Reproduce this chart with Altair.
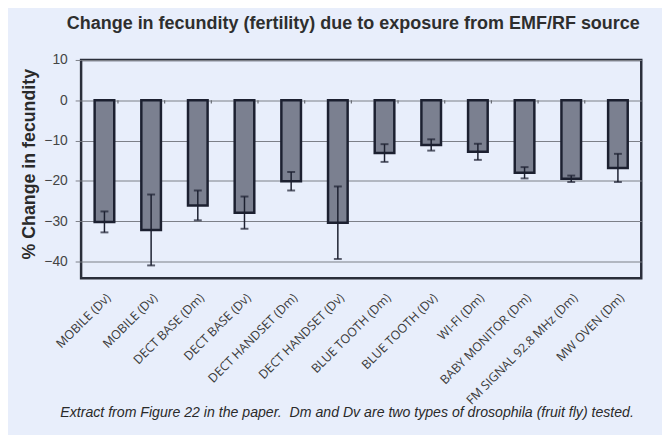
import altair as alt
import pandas as pd

categories = ["MOBILE (Dv)", "MOBILE (Dv)", "DECT BASE (Dm)", "DECT BASE (Dv)",
              "DECT HANDSET (Dm)", "DECT HANDSET (Dv)", "BLUE TOOTH (Dm)",
              "BLUE TOOTH (Dv)", "WI-FI (Dm)", "BABY MONITOR (Dm)",
              "FM SIGNAL 92.8 MHz (Dm)", "MW OVEN (Dm)"]
values = [-30.2, -32.2, -26.1, -27.9, -20.1, -30.4, -13.1, -11.1, -12.8, -18.0, -19.5, -16.8]
errors = [2.6, 8.8, 3.7, 4.0, 2.3, 9.0, 2.2, 1.4, 2.0, 1.4, 0.8, 3.5]

keys = [f"{i:02d}" for i in range(len(categories))]
df = pd.DataFrame({"key": keys, "cat": categories, "val": values, "err": errors})
df["lo"] = df["val"] - df["err"]
df["hi"] = df["val"] + df["err"]

label_expr = "{" + ",".join(f"'{k}':'{c}'" for k, c in zip(keys, categories)) + "}[datum.value]"

xscale = alt.Scale(paddingInner=0.58, paddingOuter=0.29)
x = alt.X("key:N", sort=keys, title=None, scale=xscale,
          axis=alt.Axis(labelExpr=label_expr, labelAngle=-45,
                        labelFont="Liberation Sans Narrow, Open Sans",
                        labelFontSize=12.5, labelColor="#3a3a3a", ticks=False,
                        domain=False, labelPadding=13))
yscale = alt.Scale(domain=[-44.2, 10], nice=False, zero=False)

bars = alt.Chart(df).mark_bar(color="#7b8090", stroke="#1c2030", strokeWidth=2.5).encode(
    x=x,
    y=alt.Y("val:Q", scale=yscale, title="% Change in fecundity",
            axis=alt.Axis(values=[-40, -30, -20, -10, 0, 10], labelFont="Liberation Sans",
                          labelFontSize=14, labelColor="#444444", tickColor="#7d8088",
                          tickSize=6, labelPadding=8, domain=False,
                          gridColor="#7d8088", gridWidth=1.2, gridOpacity=1,
                          titleFont="Liberation Sans", titleFontSize=18,
                          titleFontWeight="bold", titleColor="#2a2a2a",
                          titleX=-52, titleY=105, titleAngle=-90,
                          titleAlign="center", titleBaseline="middle")),
    y2=alt.datum(0),
)

# small category-axis tick marks on the zero line, between bars
cat_ticks = alt.Chart(df.iloc[:-1]).mark_rule(color="#666a72", strokeWidth=1.2).encode(
    x=alt.X("key:N", sort=keys), xOffset=alt.value(23.6),
    y=alt.datum(0, scale=yscale), y2=alt.datum(-0.8))

rules = alt.Chart(df).mark_rule(color="#1c2030", strokeWidth=1.5).encode(
    x=alt.X("key:N", sort=keys), y=alt.Y("lo:Q", scale=yscale), y2="hi:Q")
caps_lo = alt.Chart(df).mark_tick(color="#1c2030", size=8, thickness=2).encode(
    x=alt.X("key:N", sort=keys), y=alt.Y("lo:Q", scale=yscale))
caps_hi = alt.Chart(df).mark_tick(color="#1c2030", size=8, thickness=2).encode(
    x=alt.X("key:N", sort=keys), y=alt.Y("hi:Q", scale=yscale))

foot = alt.Chart(pd.DataFrame({"t": ["Extract from Figure 22 in the paper.\u00a0 Dm and Dv are two types of drosophila (fruit fly) tested."]})).mark_text(
    font="Liberation Sans", fontSize=14.3, fontStyle="italic", color="#2a2a2a", align="left", baseline="middle"
).encode(text="t:N", x=alt.value(-21), y=alt.value(357))

chart = alt.layer(bars, cat_ticks, rules, caps_lo, caps_hi, foot).properties(
    width=567, height=221,
    padding={"left": 74, "top": 50, "right": 21, "bottom": 156},
    autosize=alt.AutoSizeParams(type="none"),
    background="#e8eefb",
    title=alt.TitleParams("Change in fecundity (fertility) due to exposure from EMF/RF source",
                          font="Liberation Sans", fontSize=18.2, fontWeight="bold",
                          color="#2e2e2e", anchor="middle", offset=20, dx=-8),
).configure_view(stroke="#2a2e3a", strokeWidth=2.5, fill="#e8eefb")

chart.save("out.html", embed_options={"renderer": "svg", "actions": False})
